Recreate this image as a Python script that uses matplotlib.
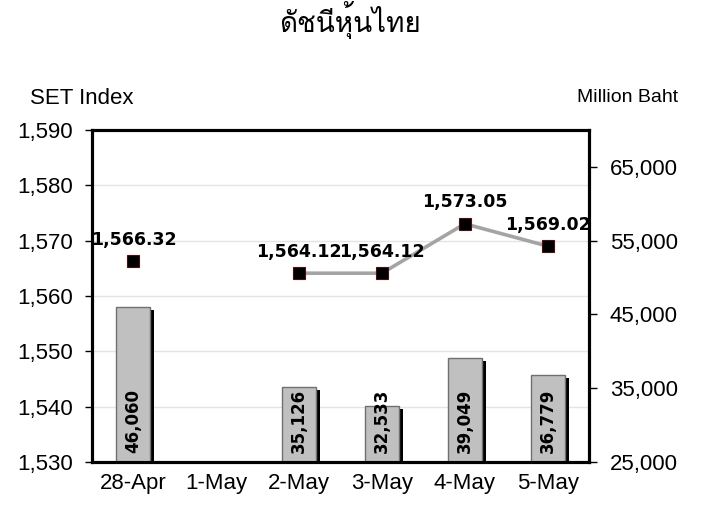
import matplotlib
matplotlib.use("Agg")
import matplotlib.pyplot as plt
import matplotlib.transforms as mtransforms
from matplotlib import font_manager as fm
from matplotlib.ft2font import FT2Font
import numpy as np

# ---- data ----
categories = ["28-Apr", "1-May", "2-May", "3-May", "4-May", "5-May"]
set_index = [1566.32, np.nan, 1564.12, 1564.12, 1573.05, 1569.02]
index_labels = ["1,566.32", "", "1,564.12", "1,564.12", "1,573.05", "1,569.02"]
turnover = [46060, np.nan, 35126, 32533, 39049, 36779]
turnover_labels = ["46,060", "", "35,126", "32,533", "39,049", "36,779"]
left_ticks = [1530, 1540, 1550, 1560, 1570, 1580, 1590]
right_ticks = [25000, 35000, 45000, 55000, 65000]
title = "ดัชนีหุ้นไทย"

# ---- fonts ----
names = {f.name for f in fm.fontManager.ttflist}
thai_family = None
for f in fm.fontManager.ttflist:
    try:
        cm = FT2Font(f.fname).get_charmap()
        if 0x0E14 in cm and 0x0E0A in cm and 0x0E2B in cm:
            thai_family = f.name
            break
    except Exception:
        pass
title_fam = [thai_family, "DejaVu Sans"] if thai_family else ["DejaVu Sans"]
sans = "Liberation Sans" if "Liberation Sans" in names else "DejaVu Sans"
lab_font = "DejaVu Sans"

fig = plt.figure(figsize=(7.28, 5.24), dpi=100)
fig.patch.set_facecolor("white")
rect = [92 / 728, 62 / 524, 497 / 728, 332 / 524]

ax = fig.add_axes(rect)          # left axis + grid
ax2 = ax.twinx()                  # bars, right axis
ax3 = ax.twinx()                  # line on left scale

x = np.arange(len(categories))
ax.set_xlim(-0.5, len(categories) - 0.5)
ax.set_ylim(1530, 1590)
ax2.set_ylim(25000, 70000)
ax3.set_ylim(1530, 1590)

# left axis + grid
ax.set_yticks(left_ticks)
ax.set_yticklabels([f"{v:,}" for v in left_ticks], fontsize=16, family=sans)
ax.yaxis.grid(True, color="#e4e4e4", linewidth=1)
ax.set_axisbelow(True)
ax.set_xticks(x)
ax.set_xticklabels(categories, fontsize=16, family=sans)
ax.tick_params(axis="x", length=0, pad=8)
ax.tick_params(axis="y", length=5, width=1, direction="out", pad=9)

# bars with shadow
w = 0.41
shadow = mtransforms.offset_copy(ax2.transData, fig=fig, x=4, y=-3, units="dots")
ax2.bar(x, np.array(turnover) - 25000, width=w, bottom=25000, color="black",
        transform=shadow, zorder=1)
ax2.bar(x, np.array(turnover) - 25000, width=w, bottom=25000, color="#c0c0c0",
        edgecolor="#707070", linewidth=1, zorder=2)
for xi, v, lab in zip(x, turnover, turnover_labels):
    if lab:
        ax2.text(xi, 25000 + 1200, lab, rotation=90, ha="center", va="bottom",
                 fontsize=12, fontweight="bold", family=lab_font, zorder=3)
ax2.set_yticks(right_ticks)
ax2.set_yticklabels([f"{v:,}" for v in right_ticks], fontsize=16, family=sans)
ax2.tick_params(axis="y", length=6, width=1, direction="out", pad=9)

# line
ax3.plot(x, set_index, color="#a4a4a4", linewidth=2.6, zorder=2)
ax3.plot(x, set_index, linestyle="none", marker="s", markersize=9,
         markerfacecolor="black", markeredgecolor="#4a1010", markeredgewidth=0.8, zorder=3)
for xi, v, lab in zip(x, set_index, index_labels):
    if lab:
        ax3.annotate(lab, (xi, v), xytext=(0, 9), textcoords="offset points",
                     ha="center", va="bottom", fontsize=12.5, fontweight="bold",
                     family=lab_font, zorder=4)
ax3.set_yticks([])
ax3.tick_params(axis="y", length=0, labelright=False)

for a in (ax, ax2, ax3):
    for s in a.spines.values():
        s.set_color("black")
        s.set_linewidth(2.2)
    a.patch.set_visible(False)
ax.patch.set_visible(True)
ax.patch.set_facecolor("white")

fig.text(30 / 728, 1 - 98 / 524, "SET Index", fontsize=16, family=sans,
         ha="left", va="center")
fig.text(678 / 728, 1 - 98 / 524, "Million Baht", fontsize=14, family=sans,
         ha="right", va="center")
fig.text(350 / 728, 1 - 20 / 524, title, fontsize=20, family=title_fam,
         ha="center", va="center")

fig.savefig("out.png", dpi=100)
